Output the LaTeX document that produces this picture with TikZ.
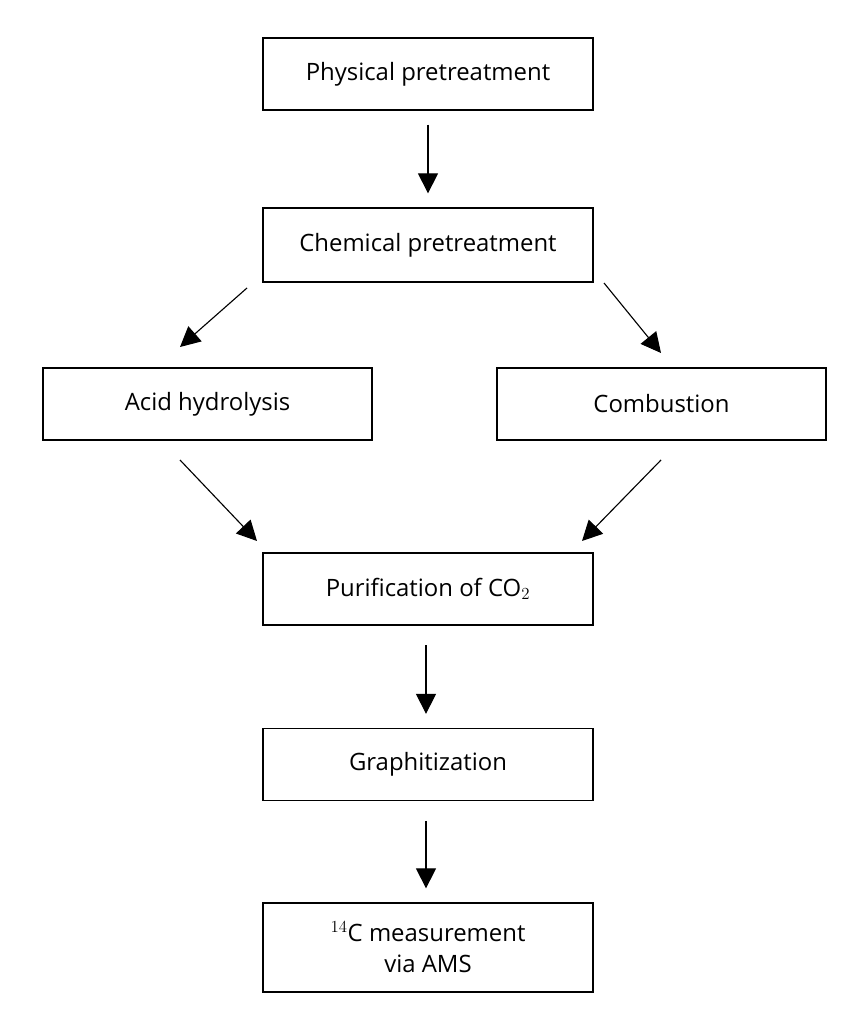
\documentclass[tikz,border=0pt]{standalone}
\usepackage{fontspec}
\setmainfont{Open Sans}
\usetikzlibrary{arrows.meta}
\tikzset{
	stepbox/.style={draw, thick, minimum width=8.25cm, minimum height=1.8cm, inner sep=0pt, align=center, font=\fontsize{17}{22}\selectfont},
	flow/.style={-{Triangle[length=5mm,width=5mm]}, thick}
}
\begin{document}
\begin{tikzpicture}[x=0.025cm, y=-0.025cm]
	\useasboundingbox (0,0) rectangle (849,1024);
	% Boxes
	\node[stepbox] (phys) at (428,74) {Physical pretreatment};
	\node[stepbox, minimum height=1.85cm] (chem) at (428,245) {Chemical pretreatment};
	\node[stepbox, minimum width=8.225cm] (acid) at (207.5,404) {Acid hydrolysis};
	\node[stepbox, minimum width=8.225cm] (comb) at (661.5,404) {Combustion};
	\node[stepbox] (puri) at (428,589) {Purification of CO$_2$};
	\node[stepbox] (graph) at (428,764.5) {Graphitization};
	\node[stepbox, minimum height=2.225cm] (ams) at (428,947.5) {$^{14}$C measurement\\via AMS};

	% Arrow ends
	\coordinate (a1) at (247,288); \coordinate (a2) at (180,347);
	\coordinate (b1) at (604,283); \coordinate (b2) at (661,353);
	\coordinate (c1) at (180,460); \coordinate (c2) at (257,541);
	\coordinate (d1) at (661,460); \coordinate (d2) at (582,541);

	% Arrows
	\draw[flow, shorten <=10pt, shorten >=10pt] (phys) -- (chem);
	\draw[flow] (a1) -- (a2);
	\draw[flow] (b1) -- (b2);
	\draw[flow] (c1) -- (c2);
	\draw[flow] (d1) -- (d2);
	\draw[flow, shorten <=14pt, shorten >=10pt] (puri.south -| 426,0) -- (graph.north -| 426,0);
	\draw[flow, shorten <=14pt, shorten >=10pt] (graph.south -| 426,0) -- (ams.north -| 426,0);
\end{tikzpicture}
\end{document}
